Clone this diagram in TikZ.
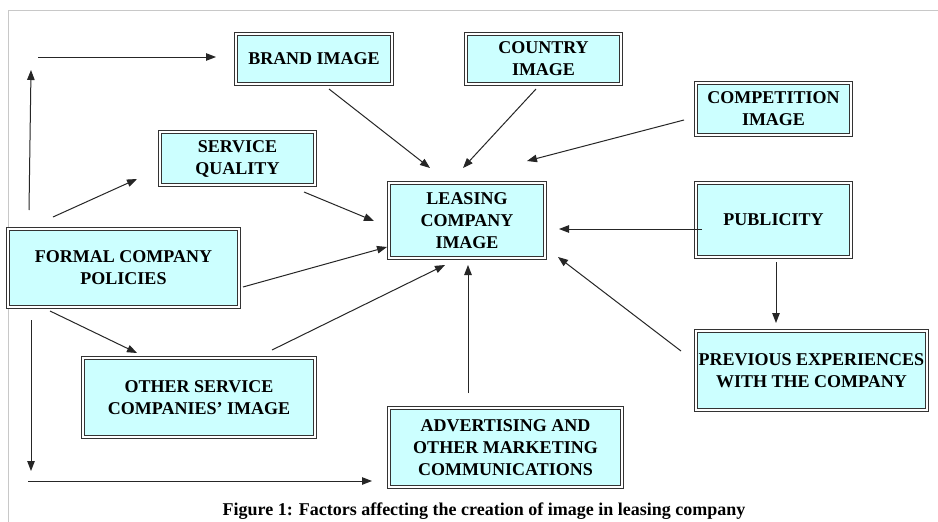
\documentclass[tikz,border=0pt]{standalone}
\usepackage{fontspec}
\setmainfont{Liberation Serif}
\usetikzlibrary{arrows.meta}
\definecolor{boxfill}{HTML}{CCFFFF}
\definecolor{boxline}{HTML}{333333}
\definecolor{framegray}{HTML}{C8C8C8}
\begin{document}
\begin{tikzpicture}[x=1pt,y=-1pt,
  factor/.style={draw=boxline, line width=0.9pt, double=white, double distance=1.3pt,
    fill=boxfill, align=center, inner sep=0pt,
    font=\fontsize{18}{22}\selectfont\bfseries},
  arr/.style={draw=black!85, line width=1pt, -{Triangle[length=10pt,width=7.5pt]}}]
  \useasboundingbox (0,0) rectangle (938,522);
  \fill[white] (0,0) rectangle (938,522);
  % thin page frame
  \draw[framegray, line width=1pt] (8,522) -- (8,10) -- (938,10);

  % factor boxes
  \node[factor, minimum width=156, minimum height=50] (brand) at (314,59) {BRAND IMAGE};
  \node[factor, minimum width=155, minimum height=50] (country) at (543.5,59) {COUNTRY\\IMAGE};
  \node[factor, minimum width=155, minimum height=52] (competition) at (773.5,109) {COMPETITION\\IMAGE};
  \node[factor, minimum width=155, minimum height=53] (service) at (237.5,158.5) {SERVICE\\QUALITY};
  \node[factor, minimum width=156, minimum height=75] (lease) at (467,220.5) {LEASING\\COMPANY\\IMAGE};
  \node[factor, minimum width=155, minimum height=74] (publicity) at (773.5,220) {PUBLICITY};
  \node[factor, minimum width=231, minimum height=78] (formal) at (123.5,268) {FORMAL COMPANY\\POLICIES};
  \node[factor, minimum width=232, minimum height=79] (other) at (199,397.5) {OTHER SERVICE\\COMPANIES' IMAGE};
  \node[factor, minimum width=233, minimum height=79] (advert) at (505.5,447.5) {ADVERTISING AND\\OTHER MARKETING\\COMMUNICATIONS};
  \node[factor, minimum width=231, minimum height=79] (previous) at (811.5,370.5) {PREVIOUS EXPERIENCES\\WITH THE COMPANY};

  % caption
  \node[font=\fontsize{18}{20}\selectfont\bfseries] (caption) at (484,511)
    {Figure 1: Factors affecting the creation of image in leasing company};

  % free connector ends
  \coordinate (fUpS) at (29,210);   \coordinate (fUpE) at (31,70);
  \coordinate (bInS) at (38,57);    \coordinate (bInE) at (216,57);
  \coordinate (sqS) at (53,217);    \coordinate (sqE) at (137,179);
  \coordinate (brS) at (329,89);    \coordinate (brE) at (430,168);
  \coordinate (coS) at (536,89);    \coordinate (coE) at (463,168);
  \coordinate (cpS) at (684,120);   \coordinate (cpE) at (527,161);
  \coordinate (svS) at (304,192);   \coordinate (svE) at (374,221);
  \coordinate (fmS) at (243,287);   \coordinate (fmE) at (387,247);
  \coordinate (puS) at (702,229);   \coordinate (puE) at (559,229);
  \coordinate (pdS) at (776,262);   \coordinate (pdE) at (776,323);
  \coordinate (prS) at (681,351);   \coordinate (prE) at (558,257);
  \coordinate (adS) at (468,393);   \coordinate (adE) at (468,265);
  \coordinate (osS) at (272,350);   \coordinate (osE) at (445,265);
  \coordinate (foS) at (50,311);    \coordinate (foE) at (137,353);
  \coordinate (fdS) at (31,320);    \coordinate (fdE) at (31,471);
  \coordinate (btS) at (28,481);    \coordinate (btE) at (372,481);

  % influences
  \draw[arr] (fUpS) -- (fUpE);
  \draw[arr] (bInS) -- (bInE);
  \draw[arr] (sqS) -- (sqE);
  \draw[arr] (brS) -- (brE);
  \draw[arr] (coS) -- (coE);
  \draw[arr] (cpS) -- (cpE);
  \draw[arr] (svS) -- (svE);
  \draw[arr] (fmS) -- (fmE);
  \draw[arr] (puS) -- (puE);
  \draw[arr] (pdS) -- (pdE);
  \draw[arr] (prS) -- (prE);
  \draw[arr] (adS) -- (adE);
  \draw[arr] (osS) -- (osE);
  \draw[arr] (foS) -- (foE);
  \draw[arr] (fdS) -- (fdE);
  \draw[arr] (btS) -- (btE);
\end{tikzpicture}
\end{document}
